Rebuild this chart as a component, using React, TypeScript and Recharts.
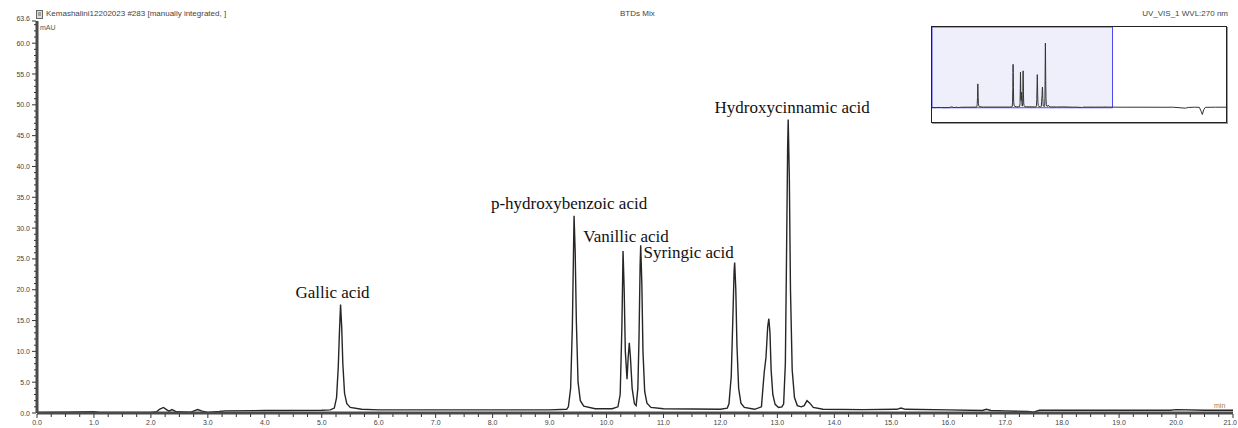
import { LineChart, Line, XAxis, YAxis, ReferenceDot, ReferenceArea } from "recharts"

// Retention time (min) and absorbance (mAU) of the UV_VIS_1 trace
const traceTime = [
  0, 0.5, 1.0, 1.1, 1.4, 2.0, 2.1, 2.15, 2.22, 2.28, 2.32, 2.37, 2.45, 2.7, 2.76, 2.82, 2.9, 3.0, 3.2, 3.3, 4.0, 5.0, 5.15,
  5.22, 5.26, 5.29, 5.31, 5.33, 5.35, 5.37, 5.4, 5.44, 5.5, 5.7, 6.0, 7.0, 8.0, 9.0, 9.3,
  9.33, 9.37, 9.4, 9.42, 9.43, 9.45, 9.47, 9.5, 9.54, 9.6, 9.8, 10.1, 10.2,
  10.24, 10.27, 10.29, 10.31, 10.33, 10.36, 10.38, 10.4, 10.42, 10.45, 10.49, 10.52,
  10.55, 10.57, 10.59, 10.6, 10.62, 10.64, 10.67, 10.71, 10.78, 11.0, 12.0, 12.12,
  12.15, 12.19, 12.22, 12.24, 12.25, 12.27, 12.29, 12.32, 12.36, 12.42, 12.6, 12.72,
  12.75, 12.77, 12.8, 12.83, 12.85, 12.87, 12.89, 12.92, 12.96, 13.02, 13.08,
  13.11, 13.14, 13.16, 13.18, 13.19, 13.21, 13.23, 13.26, 13.3, 13.35, 13.42,
  13.47, 13.52, 13.57, 13.63, 13.8, 14.5, 15.1, 15.17, 15.25, 16.0, 16.6, 16.67, 16.75,
  17.0, 17.4, 17.5, 17.6, 18.0, 19.0, 19.9, 20.0, 20.5, 21.0,
  22.0, 25.0, 27.0, 28.0, 29.5, 29.8, 30.5, 31.1, 31.3, 31.45, 31.6, 31.8, 33.0, 34.2,
]
const traceMAU = [
  0.1, 0.15, 0.2, 0.1, 0.1, 0.1, 0.2, 0.6, 0.9, 0.5, 0.3, 0.55, 0.2, 0.15, 0.35, 0.55, 0.3, 0.1, 0.25, 0.35, 0.4, 0.45, 0.5,
  0.8, 2.5, 7.5, 13.0, 17.6, 14.0, 8.0, 3.2, 1.5, 0.9, 0.6, 0.5, 0.5, 0.5, 0.5, 0.6,
  1.0, 4.0, 14.0, 26.0, 32.0, 26.0, 15.0, 5.0, 2.0, 1.1, 0.7, 0.7, 1.0,
  3.0, 14.0, 26.3, 20.0, 10.0, 5.5, 9.0, 11.4, 9.0, 4.0, 1.5, 1.2,
  4.0, 12.0, 24.0, 27.2, 21.0, 10.0, 3.5, 1.6, 0.9, 0.7, 0.6, 0.8,
  1.5, 6.0, 16.0, 23.0, 24.4, 20.0, 11.0, 4.0, 1.6, 0.9, 0.6, 1.0,
  4.5, 6.7, 9.0, 14.0, 15.3, 13.0, 7.0, 3.0, 1.4, 0.9, 1.0,
  1.5, 8.0, 25.0, 43.0, 47.6, 38.0, 20.0, 7.0, 2.5, 1.2, 1.0,
  1.2, 2.0, 1.6, 0.9, 0.6, 0.55, 0.6, 0.8, 0.6, 0.5, 0.4, 0.6, 0.4,
  0.35, 0.25, 0.15, 0.45, 0.45, 0.45, 0.45, 0.55, 0.45, 0.45,
  0.4, 0.4, 0.35, 0.4, -0.3, 0.2, 0.4, 0.3, -2.5, -5.0, -1.5, 0.3, 0.4, 0.4,
]

// Named peaks: apex time and apex height
const peakNames = ["Gallic acid", "p-hydroxybenzoic acid", "Vanillic acid", "Syringic acid", "Hydroxycinnamic acid"]
const peakTimes = [5.33, 9.43, 10.29, 10.6, 13.19]
const peakHeights = [17.6, 32.0, 26.3, 27.2, 47.6]
// where each name sits relative to its apex, in px
const labelShift = [
  [-8, -7],
  [-5, -7],
  [3, -9],
  [48, 13],
  [4, -7],
]

const xMajorTicks = [0, 1, 2, 3, 4, 5, 6, 7, 8, 9, 10, 11, 12, 13, 14, 15, 16, 17, 18, 19, 20, 21]
const yMajorTicks = [0, 5, 10, 15, 20, 25, 30, 35, 40, 45, 50, 55, 60, 63.6]
const xTicks = Array.from({ length: 85 }, (_, i) => i * 0.25)
const yTicks = [...Array.from({ length: 64 }, (_, i) => i), 63.6]

const trace = traceTime.map((t, i) => ({ t, v: traceMAU[i] }))
const mainTrace = trace.filter((d) => d.t <= 21)

const sans = "'Liberation Sans', Arial, sans-serif"
const serif = "'Liberation Serif', 'Times New Roman', serif"
const axisColor = "#4a4a4a"

const XTick = ({ x, y, payload }: any) => {
  const major = xMajorTicks.includes(payload.value)
  const last = payload.value === 21
  return (
    <g>
      <line x1={x} x2={x} y1={y + 1} y2={y + (major ? 5 : 4)} stroke="#333" strokeWidth={1} />
      {major && (
        <text
          x={last ? x + 4 : x}
          y={y + 12}
          textAnchor={last ? "end" : "middle"}
          fontSize={7}
          fontFamily={sans}
          fill="#444"
        >
          {payload.value.toFixed(1)}
        </text>
      )}
    </g>
  )
}

const YTick = ({ x, y, payload }: any) => {
  const major = yMajorTicks.includes(payload.value)
  const top = payload.value === 63.6
  return (
    <g>
      <line x1={x - (major ? 5 : 3)} x2={x - 1} y1={y} y2={y} stroke="#333" strokeWidth={1} />
      {major && (
        <text x={x - 7} y={top ? y : y + 2.5} textAnchor="end" fontSize={7} fontFamily={sans} fill="#444">
          {payload.value.toFixed(1)}
        </text>
      )}
    </g>
  )
}

export default function App() {
  return (
    <div style={{ position: "absolute", left: 0, top: 0, width: 1238, height: 428, background: "#fff" }}>
      {/* header line */}
      <svg width={8} height={9} style={{ position: "absolute", left: 36, top: 10 }}>
        <rect x={0.5} y={0.5} width={6} height={8} fill="#ddd" stroke="#666" />
        <line x1={2} x2={5} y1={3} y2={3} stroke="#666" />
        <line x1={2} x2={5} y1={5} y2={5} stroke="#666" />
      </svg>
      <div style={{ position: "absolute", left: 46, top: 9, fontFamily: sans, fontSize: 8, color: "#444", whiteSpace: "nowrap" }}>
        Kemashalini12202023 #283 [manually integrated, ]
      </div>
      <div style={{ position: "absolute", left: 620, top: 9, fontFamily: sans, fontSize: 8, color: "#444", whiteSpace: "nowrap" }}>
        BTDs Mix
      </div>
      <div style={{ position: "absolute", right: 10, top: 9, fontFamily: sans, fontSize: 8, color: "#444", whiteSpace: "nowrap" }}>
        UV_VIS_1 WVL:270 nm
      </div>

      <LineChart width={1238} height={428} data={mainTrace} margin={{ top: 21, right: 5, bottom: 0, left: 0 }}>
        <XAxis
          dataKey="t"
          type="number"
          domain={[0, 21]}
          ticks={xTicks}
          interval={0}
          allowDataOverflow
          height={15}
          tickSize={0}
          tickMargin={0}
          tickLine={false}
          tick={<XTick />}
          axisLine={{ stroke: axisColor, strokeWidth: 3 }}
        />
        <XAxis xAxisId="top" orientation="top" type="number" domain={[0, 21]} height={0} tick={false} tickLine={false} axisLine={{ stroke: "#333", strokeWidth: 1.5 }} />
        <YAxis
          type="number"
          domain={[0, 63.6]}
          ticks={yTicks}
          interval={0}
          allowDataOverflow
          width={37}
          tickSize={0}
          tickMargin={0}
          tickLine={false}
          tick={<YTick />}
          axisLine={{ stroke: axisColor, strokeWidth: 3 }}
        />
        <YAxis yAxisId="right" orientation="right" type="number" domain={[0, 63.6]} width={0} tick={false} tickLine={false} axisLine={{ stroke: "#333", strokeWidth: 1.5 }} />
        <Line type="linear" dataKey="v" stroke="#262626" strokeWidth={1.4} dot={false} isAnimationActive={false} />
        {peakNames.map((name, i) => (
          <ReferenceDot
            key={name}
            x={peakTimes[i]}
            y={peakHeights[i]}
            r={1}
            shape={(p: any) => (
              <text
                x={p.cx + labelShift[i][0]}
                y={p.cy + labelShift[i][1]}
                textAnchor="middle"
                fontFamily={serif}
                fontSize={17}
                fill="#111"
              >
                {name}
              </text>
            )}
          />
        ))}
      </LineChart>

      <div style={{ position: "absolute", left: 40, top: 24, fontFamily: sans, fontSize: 7, color: "#555" }}>mAU</div>
      <div style={{ position: "absolute", left: 1214, top: 402, fontFamily: sans, fontSize: 7, color: "#a08050" }}>min</div>

      {/* overview of the whole run */}
      <div
        style={{
          position: "absolute",
          left: 931,
          top: 26,
          width: 294,
          height: 95,
          border: "1px solid #222",
          boxShadow: "1px 1px 0 #999",
          background: "#fff",
        }}
      >
        <LineChart width={294} height={95} data={trace} margin={{ top: 0, right: 0, bottom: 0, left: 0 }}>
          <XAxis dataKey="t" type="number" domain={[0, 34.2]} hide />
          <YAxis type="number" domain={[-10.5, 59.5]} hide allowDataOverflow />
          <ReferenceArea x1={0} x2={21} y1={0} y2={59.5} fill="#efeffb" fillOpacity={1} stroke="#4a4af0" strokeWidth={1} />
          <Line type="linear" dataKey="v" stroke="#333" strokeWidth={1} dot={false} isAnimationActive={false} />
        </LineChart>
      </div>
    </div>
  )
}
